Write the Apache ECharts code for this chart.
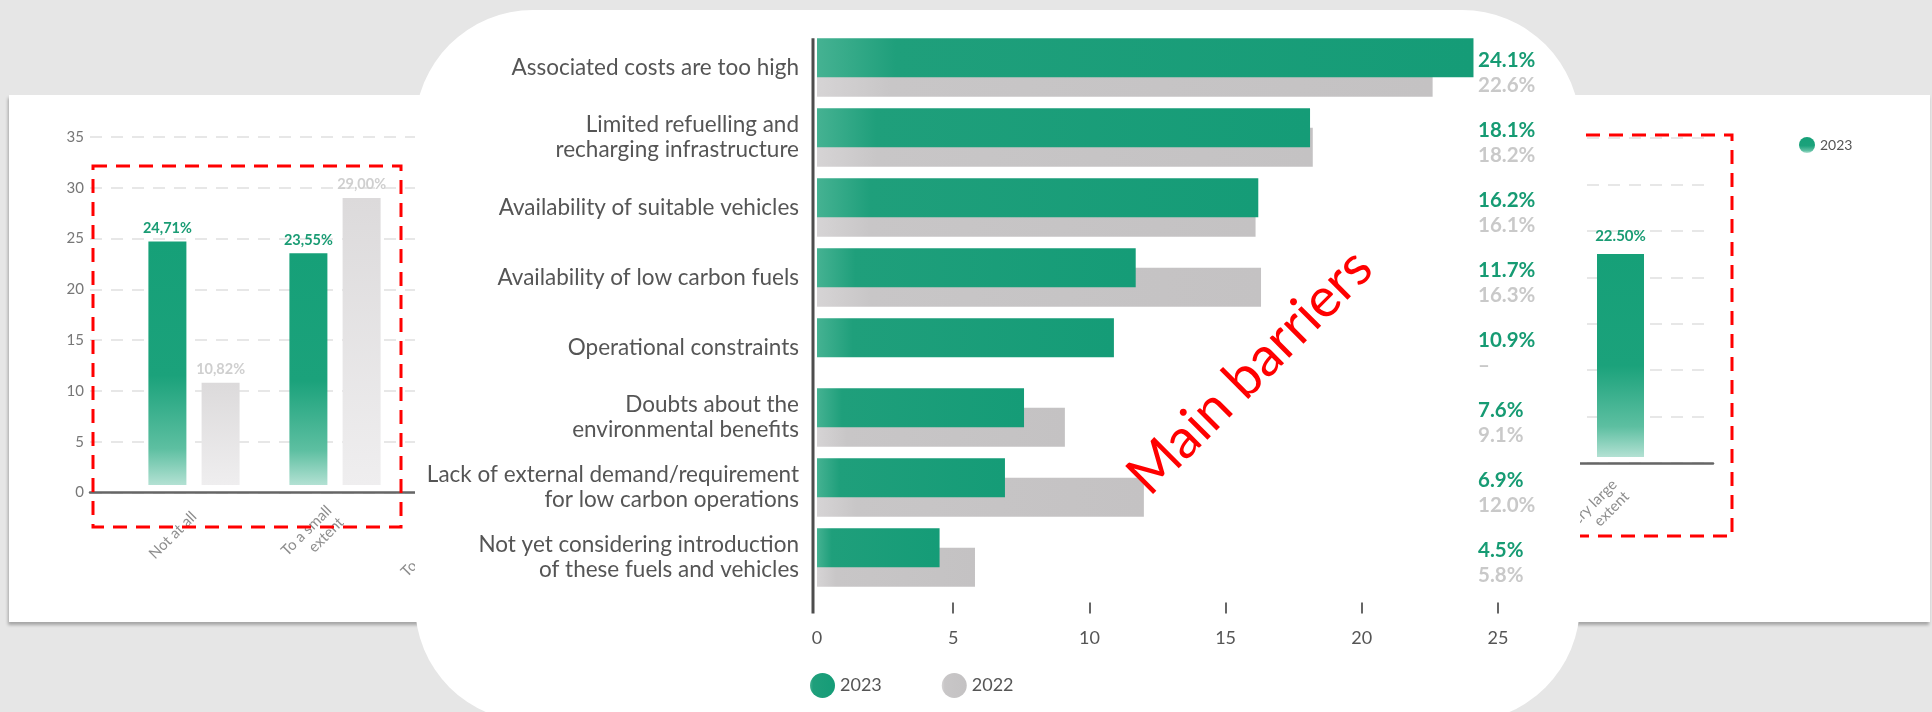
<!DOCTYPE html>
<html>
<head>
<meta charset="utf-8">
<script src="https://cdn.jsdelivr.net/npm/echarts@6/dist/echarts.min.js"></script>
<style>
  html, body { margin: 0; padding: 0; width: 1932px; height: 712px; overflow: hidden; background: #e6e6e6; }
  #sheet { position: absolute; left: 9px; top: 95px; width: 1921px; height: 527px; background: #fff;
           box-shadow: -1px 3px 3px rgba(0,0,0,0.28); }
  #backChart, #frontChart { position: absolute; left: 0; top: 0; width: 1932px; height: 712px; }
  #card { position: absolute; left: 415px; top: 10px; width: 1165px; height: 712px; background: #fff;
          border-radius: 118px; }
</style>
</head>
<body>
<div id="sheet"></div>
<div id="backChart"></div>
<div id="card"></div>
<div id="frontChart"></div>
<script>
// Extent to which companies use low carbon fuels / vehicles (background chart)
const extentCats = ['Not at all', 'To a small\nextent', 'To a moderate\nextent'];
const extent2023 = [24.71, 23.55, null];
const extent2022 = [10.82, 29.00, null];
const largeCats = ['To a very large\nextent'];
const large2023 = [22.50];

// Main barriers (front chart)
const barriers = [
  'Associated costs are too high',
  'Limited refuelling and\nrecharging infrastructure',
  'Availability of suitable vehicles',
  'Availability of low carbon fuels',
  'Operational constraints',
  'Doubts about the\nenvironmental benefits',
  'Lack of external demand/requirement\nfor low carbon operations',
  'Not yet considering introduction\nof these fuels and vehicles'
];
const barriers2023 = [24.1, 18.1, 16.2, 11.7, 10.9, 7.6, 6.9, 4.5];
const barriers2022 = [22.6, 18.2, 16.1, 16.3, null, 9.1, 12.0, 5.8];
const barrierTicks = [0, 5, 10, 15, 20, 25];

const FONT = 'Lato, "Open Sans", sans-serif';
const GREEN = '#159c77';
const GREY = '#c4c2c3';

const vGreen = new echarts.graphic.LinearGradient(0, 0, 0, 1, [
  { offset: 0, color: '#16a078' }, { offset: 0.55, color: '#1ba27b' },
  { offset: 0.85, color: '#5dbfa1' }, { offset: 1, color: '#b3e1d3' }]);
const vGrey = new echarts.graphic.LinearGradient(0, 0, 0, 1, [
  { offset: 0, color: '#dcdadb' }, { offset: 1, color: '#efeeef' }]);
const hGreen = new echarts.graphic.LinearGradient(0, 0, 1, 0, [
  { offset: 0, color: '#45b292' }, { offset: 0.12, color: '#1f9f7b' }, { offset: 1, color: GREEN }]);
const hGrey = new echarts.graphic.LinearGradient(0, 0, 1, 0, [
  { offset: 0, color: '#d6d4d5' }, { offset: 0.12, color: '#c8c6c7' }, { offset: 1, color: GREY }]);

const comma = v => v.toFixed(2).replace('.', ',') + '%';

// ---------- background chart ----------
const back = echarts.init(document.getElementById('backChart'));
const splitDash = { show: true, lineStyle: { color: '#e0e0e0', width: 1.5, type: [12, 9] } };
const catLabel = { rotate: 45, fontSize: 15, color: '#8e8e8e', fontFamily: FONT, interval: 0, lineHeight: 17 };
back.setOption({
  animation: false,
  grid: [
    { left: 90, top: 137, width: 520, height: 355.5 },
    { left: 123.5, top: 137, width: 423, height: 348 },
    { left: 1440, top: 138, width: 273, height: 325 },
    { left: 1556, top: 138, width: 129, height: 319 }
  ],
  legend: {
    data: ['2023'], left: 1794, top: 132, icon: 'circle', itemWidth: 16, itemHeight: 16,
    textStyle: { fontSize: 14, color: '#555', fontFamily: FONT }
  },
  xAxis: [
    { gridIndex: 0, type: 'value', min: 0, max: 1, axisLine: { lineStyle: { color: '#666', width: 2.5 } },
      axisTick: { show: false }, axisLabel: { show: false }, splitLine: { show: false } },
    { gridIndex: 1, type: 'category', data: extentCats, axisLine: { show: false }, axisTick: { show: false },
      axisLabel: Object.assign({ margin: 29 }, catLabel) },
    { gridIndex: 2, type: 'value', min: 0, max: 1, axisLine: { lineStyle: { color: '#666', width: 2.5 } },
      axisTick: { show: false }, axisLabel: { show: false }, splitLine: { show: false } },
    { gridIndex: 3, type: 'category', data: largeCats, axisLine: { show: false }, axisTick: { show: false },
      axisLabel: Object.assign({ margin: 31 }, catLabel) }
  ],
  yAxis: [
    { gridIndex: 0, type: 'value', min: 0, max: 35, interval: 5, axisLine: { show: false }, axisTick: { show: false },
      axisLabel: { margin: 6, fontSize: 15, color: '#777', fontFamily: FONT }, splitLine: splitDash },
    { gridIndex: 1, type: 'value', min: 0.75, max: 35, show: false, splitLine: { show: false } },
    { gridIndex: 2, type: 'value', min: 0, max: 35, interval: 5, axisLine: { show: false }, axisTick: { show: false },
      axisLabel: { show: false }, splitLine: splitDash },
    { gridIndex: 3, type: 'value', min: 0.66, max: 35, show: false, splitLine: { show: false } }
  ],
  series: [
    { name: '2023', type: 'bar', xAxisIndex: 1, yAxisIndex: 1, data: extent2023, barWidth: 38, barGap: '40%',
      itemStyle: { color: vGreen },
      label: { show: true, position: 'top', distance: 6, formatter: p => comma(p.value),
               color: '#1a9c74', fontWeight: 'bold', fontSize: 14.5, fontFamily: FONT } },
    { name: '2022', type: 'bar', xAxisIndex: 1, yAxisIndex: 1, data: extent2022, barWidth: 38,
      itemStyle: { color: vGrey },
      label: { show: true, position: 'top', distance: 6, formatter: p => comma(p.value),
               color: '#cfcfcf', fontWeight: 'bold', fontSize: 14.5, fontFamily: FONT } },
    { name: '2023', type: 'bar', xAxisIndex: 3, yAxisIndex: 3, data: large2023, barWidth: 47,
      itemStyle: { color: vGreen },
      label: { show: true, position: 'top', distance: 10, formatter: p => p.value.toFixed(2) + '%',
               color: '#1a9c74', fontWeight: 'bold', fontSize: 15, fontFamily: FONT } }
  ],
  graphic: [
    { type: 'rect', shape: { x: 93, y: 166, width: 308, height: 361 },
      style: { fill: 'none', stroke: '#ff0000', lineWidth: 3, lineDash: [14, 9] }, z: 50 },
    { type: 'rect', shape: { x: 1540, y: 135, width: 192, height: 401 },
      style: { fill: 'none', stroke: '#ff0000', lineWidth: 3, lineDash: [14, 9] }, z: 50 }
  ]
});

// ---------- front chart: main barriers ----------
const front = echarts.init(document.getElementById('frontChart'));
const pct = v => (v == null ? '–' : v.toFixed(1) + '%');
front.setOption({
  animation: false,
  grid: { left: 817, top: 32.5, width: 681, height: 560 },
  legend: {
    data: ['2023', '2022'], left: 805, top: 668, icon: 'circle', itemWidth: 25, itemHeight: 25, itemGap: 60,
    textStyle: { fontSize: 18, color: '#555', fontFamily: FONT }
  },
  xAxis: {
    type: 'value', min: barrierTicks[0], max: barrierTicks[barrierTicks.length - 1], interval: 5, offset: 10,
    axisLine: { show: false },
    axisTick: { show: true, length: 11, lineStyle: { color: '#666', width: 2 },
                customValues: barrierTicks.filter(v => v > 0) },
    axisLabel: { margin: 27, fontSize: 18, color: '#555', fontFamily: FONT },
    splitLine: { show: false }
  },
  yAxis: [
    { type: 'category', inverse: true, data: barriers, axisLine: { show: false }, axisTick: { show: false },
      axisLabel: { margin: 18, fontSize: 22.5, lineHeight: 25, color: '#555', fontFamily: FONT, align: 'right' } },
    { type: 'category', inverse: true, position: 'right', data: barriers, axisLine: { show: false }, axisTick: { show: false },
      axisLabel: {
        margin: -20, align: 'left', padding: [10, 0, 0, 0],
        formatter: (v, i) => '{g|' + pct(barriers2023[i]) + '}\n{r|' + pct(barriers2022[i]) + '}',
        rich: {
          g: { fontSize: 20.5, fontWeight: 'bold', color: '#169b73', lineHeight: 25, fontFamily: FONT },
          r: { fontSize: 20.5, fontWeight: 'bold', color: '#c9c9c9', lineHeight: 25, fontFamily: FONT }
        }
      } }
  ],
  series: [
    { name: '2023', type: 'bar', data: barriers2023, barWidth: 39, barGap: '-50%', z: 3,
      itemStyle: { color: hGreen } },
    { name: '2022', type: 'bar', data: barriers2022, barWidth: 39, z: 2,
      itemStyle: { color: hGrey } }
  ],
  color: [GREEN, GREY]
});

// Vertical axis rule: from the top of the first bar down to the tick marks
const gx = front.convertToPixel({ xAxisIndex: 0 }, 0) - 4;
const gTop = front.convertToPixel({ yAxisIndex: 0 }, barriers[0]) - 29.25;
const gBottom = 32.5 + 560 + 10 + 11;
front.setOption({
  graphic: [
    { id: 'axisRule', type: 'line', shape: { x1: gx, y1: gTop, x2: gx, y2: gBottom },
      style: { stroke: '#4d4d4d', lineWidth: 3 }, z: 10 },
    { id: 'note', type: 'text', x: 1250, y: 372, rotation: Math.PI / 4, z: 100,
      style: { text: 'Main barriers', fill: '#ff0000', font: '55px Lato, sans-serif', align: 'center', verticalAlign: 'middle' } }
  ]
});
</script>
</body>
</html>
